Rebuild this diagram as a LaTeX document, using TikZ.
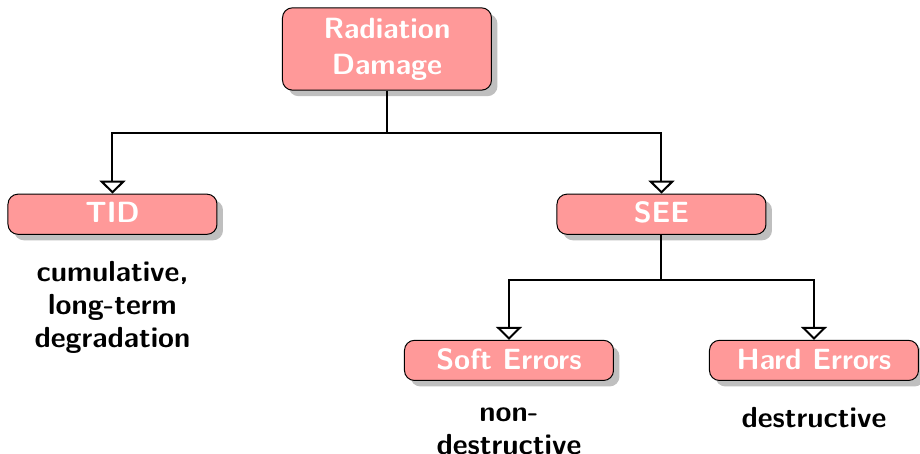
\documentclass[tikz,border=0pt]{standalone}
\usepackage{xcolor}
\usepackage{tikz}
\usetikzlibrary{positioning,calc,arrows.meta,shadows}
\tikzset{%
  damageBox/.style={%
    rectangle,
    rounded corners=4pt,
    draw=black,
    fill=red!40,
    text=white,
    font=\fontsize{11.7}{14.4}\selectfont\sffamily\bfseries,
    minimum width=83.6pt,
    align=center,
    drop shadow={fill=black!25, opacity=1, shadow xshift=2.4pt, shadow yshift=-2.4pt}
  },
  leafBox/.style={%
    damageBox,
    text height=8.2pt,
    text depth=1.2pt,
    minimum height=15.6pt
  },
  noteText/.style={%
    align=center,
    font=\fontsize{11.6}{13.2}\selectfont\sffamily\bfseries
  },
  treeArrow/.style={%
    -{Triangle[open,length=5.2pt,width=10.4pt]},
    thick,
    color=black
  }
}
\begin{document}
\begin{tikzpicture}
            \useasboundingbox (-154.8pt,-162pt) rectangle (213.2pt,19.6pt);

            \node[damageBox, inner ysep=4pt] (root) at (0,0) {Radiation\\Damage};

            \node[leafBox, below left=41.2pt and 25.8pt of root] (tid) {TID};
            \node[leafBox, below right=41.2pt and 25.8pt of root] (see) {SEE};

            \node[leafBox, below=42pt of see, xshift=-61pt] (soft) {Soft Errors};
            \node[leafBox, below=42pt of see, xshift=61pt] (hard) {Hard Errors};

            \node[noteText, below=7pt of tid] (tidNote) {cumulative,\\long-term\\degradation};
            \node[noteText, below=7pt of soft] (softNote) {non-\\destructive};
            \node[noteText, below=7pt of hard] (hardNote) {destructive};

            \coordinate[below=16.8pt of root.south] (rootFork);
            \coordinate[below=18pt of see.south] (seeFork);

            \draw[treeArrow] (root.south) -- (rootFork) -| (tid.north);
            \draw[treeArrow] (root.south) -- (rootFork) -| (see.north);
            \draw[treeArrow] (see.south) -- (seeFork) -| (soft.north);
            \draw[treeArrow] (see.south) -- (seeFork) -| (hard.north);

        \end{tikzpicture}
\end{document}
